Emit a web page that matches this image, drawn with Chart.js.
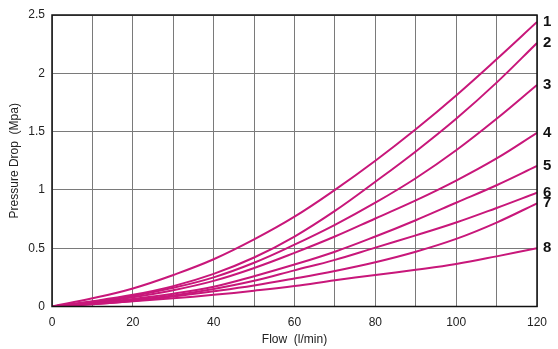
<!DOCTYPE html>
<html>
<head>
<meta charset="utf-8">
<script src="https://cdn.jsdelivr.net/npm/chart.js@4"></script>
<style>
html,body{margin:0;padding:0;background:#fff;}
#wrap{width:558px;height:349px;position:relative;}
</style>
</head>
<body>
<div id="wrap"><canvas id="c" width="558" height="349"></canvas></div>
<script>
const flow = [0, 10, 20, 30, 40, 50, 60, 70, 80, 90, 100, 110, 120];
const curve1 = [0, 0.07, 0.155, 0.27, 0.405, 0.575, 0.77, 1.00, 1.25, 1.52, 1.81, 2.12, 2.44];
const curve2 = [0, 0.045, 0.10, 0.175, 0.28, 0.42, 0.60, 0.82, 1.07, 1.33, 1.61, 1.92, 2.26];
const curve3 = [0, 0.04, 0.09, 0.16, 0.25, 0.375, 0.53, 0.70, 0.89, 1.10, 1.34, 1.61, 1.90];
const curve4 = [0, 0.035, 0.08, 0.14, 0.22, 0.33, 0.46, 0.60, 0.755, 0.91, 1.08, 1.27, 1.49];
const curve5 = [0, 0.03, 0.065, 0.11, 0.17, 0.26, 0.36, 0.47, 0.60, 0.74, 0.89, 1.04, 1.205];
const curve6 = [0, 0.025, 0.055, 0.095, 0.15, 0.22, 0.31, 0.40, 0.505, 0.61, 0.72, 0.845, 0.976];
const curve7 = [0, 0.02, 0.048, 0.085, 0.13, 0.18, 0.24, 0.305, 0.38, 0.47, 0.58, 0.72, 0.885];
const curve8 = [0, 0.02, 0.045, 0.07, 0.10, 0.135, 0.175, 0.225, 0.27, 0.315, 0.365, 0.43, 0.50];
const curveNames = ['1', '2', '3', '4', '5', '6', '7', '8'];
const xTickLabels = ['0', '20', '40', '60', '80', '100', '120'];
const yTickLabels = ['0', '0.5', '1', '1.5', '2', '2.5'];
const xTitle = 'Flow  (l/min)';
const yTitle = 'Pressure Drop  (Mpa)';

const LINE = '#c8177a';
const series = [curve1, curve2, curve3, curve4, curve5, curve6, curve7, curve8];
const datasets = series.map((s, i) => ({
  label: curveNames[i],
  data: s.map((v, j) => ({x: flow[j], y: v})),
  borderColor: LINE,
  borderWidth: 2,
  pointRadius: 0,
  tension: 0.4,
  fill: false
}));

const frame = {
  id: 'frame',
  afterDraw(chart) {
    const {ctx, chartArea: a} = chart;
    ctx.save();
    ctx.strokeStyle = '#111';
    ctx.lineWidth = 1.5;
    ctx.strokeRect(a.left, a.top, a.right - a.left, a.bottom - a.top);
    ctx.fillStyle = '#111';
    ctx.font = 'bold 15px "Liberation Sans", Arial, sans-serif';
    ctx.textAlign = 'left';
    ctx.textBaseline = 'middle';
    const xs = chart.scales.x, ys = chart.scales.y;
    series.forEach((s, i) => {
      const px = xs.getPixelForValue(flow[flow.length - 1]);
      const py = ys.getPixelForValue(s[s.length - 1]);
      ctx.fillText(curveNames[i], px + 6, py);
    });
    ctx.restore();
  }
};

const font = {family: '"Liberation Sans", Arial, sans-serif', size: 12};
new Chart(document.getElementById('c'), {
  type: 'line',
  data: {datasets},
  options: {
    responsive: false,
    animation: false,
    layout: {padding: {left: 0, top: 15, right: 21, bottom: 0}},
    plugins: {legend: {display: false}, tooltip: {enabled: false}},
    scales: {
      x: {
        type: 'linear', min: 0, max: 120,
        afterFit(s) { s.height = 42.5; },
        grid: {color: '#7a7a7a', lineWidth: 1, drawTicks: false},
        border: {display: false},
        ticks: {
          stepSize: 10, padding: 9, color: '#222', font, maxRotation: 0, autoSkip: false,
          callback: (v) => (v % 20 === 0 ? xTickLabels[v / 20] : '')
        },
        title: {display: true, text: xTitle, color: '#222', font, padding: {top: 0, bottom: 2}}
      },
      y: {
        type: 'linear', min: 0, max: 2.5,
        afterFit(s) { s.width = 52; },
        grid: {color: '#7a7a7a', lineWidth: 1, drawTicks: false},
        border: {display: false},
        ticks: {
          stepSize: 0.5, padding: 7, color: '#222', font,
          callback: (v) => yTickLabels[Math.round(v * 2)]
        },
        title: {display: true, text: yTitle, color: '#222', font, padding: {top: 7, bottom: 0}}
      }
    }
  },
  plugins: [frame]
});
</script>
</body>
</html>
